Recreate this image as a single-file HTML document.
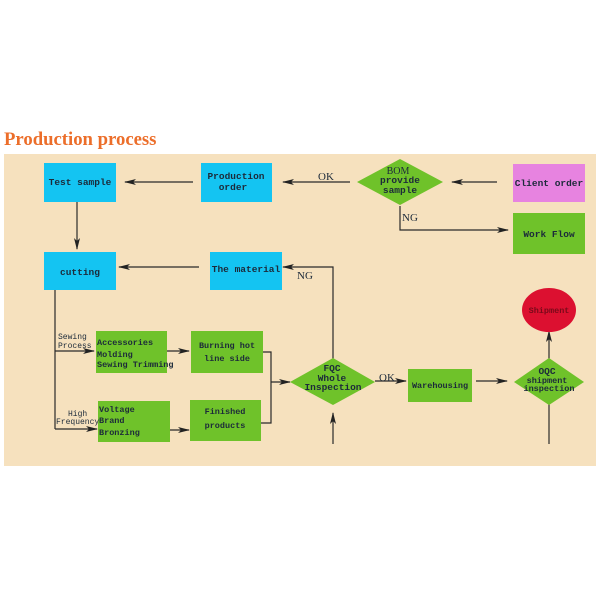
<!DOCTYPE html>
<html><head><meta charset="utf-8"><style>
html,body{margin:0;padding:0;background:#fff;width:600px;height:600px;overflow:hidden}
svg{display:block}
text{font-family:"Liberation Mono",monospace;font-weight:bold;fill:#1c2a3a;font-size:9.5px}
.s{font-family:"Liberation Serif",serif;font-weight:normal;font-size:10px}
</style></head><body>
<svg width="600" height="600" viewBox="0 0 600 600">
<defs><marker id="a" markerWidth="12" markerHeight="6" refX="11" refY="3" orient="auto" markerUnits="userSpaceOnUse"><path d="M0,0 L12,3 L0,6 L3,3 z" fill="#222"/></marker></defs>
<text x="4" y="145" style="font-family:'Liberation Serif',serif;font-weight:bold;font-size:18.7px;fill:#ec6e2a">Production process</text>
<rect x="4" y="154" width="592" height="312" fill="#f6e1be"/>
<g stroke="#2a2a2a" stroke-width="1.2" fill="none">
<line x1="193" y1="182" x2="125" y2="182" marker-end="url(#a)"/>
<line x1="350" y1="182" x2="283" y2="182" marker-end="url(#a)"/>
<line x1="497" y1="182" x2="452" y2="182" marker-end="url(#a)"/>
<polyline points="400,206 400,230 508,230" marker-end="url(#a)"/>
<line x1="77" y1="202" x2="77" y2="249" marker-end="url(#a)"/>
<line x1="199" y1="267" x2="119" y2="267" marker-end="url(#a)"/>
<polyline points="333,360 333,267 283,267" marker-end="url(#a)"/>
<polyline points="55,290 55,429"/>
<line x1="55" y1="351" x2="94" y2="351" marker-end="url(#a)"/>
<line x1="55" y1="429" x2="97" y2="429" marker-end="url(#a)"/>
<line x1="166" y1="351" x2="189" y2="351" marker-end="url(#a)"/>
<line x1="169" y1="430" x2="189" y2="430" marker-end="url(#a)"/>
<polyline points="261,352 271,352 271,423 260,423"/>
<line x1="271" y1="382" x2="290" y2="382" marker-end="url(#a)"/>
<line x1="333" y1="444" x2="333" y2="413" marker-end="url(#a)"/>
<line x1="375" y1="381" x2="406" y2="381" marker-end="url(#a)"/>
<line x1="476" y1="381" x2="507" y2="381" marker-end="url(#a)"/>
<line x1="549" y1="361" x2="549" y2="331" marker-end="url(#a)"/>
<line x1="549" y1="444" x2="549" y2="404"/>
</g>
<g fill="#14c4f2">
<rect x="44" y="163" width="72" height="39"/>
<rect x="201" y="163" width="71" height="39"/>
<rect x="44" y="252" width="72" height="38"/>
<rect x="210" y="252" width="72" height="38"/>
</g>
<rect x="513" y="164" width="72" height="38" fill="#e783e0"/>
<g fill="#6fc22a">
<rect x="513" y="213" width="72" height="41"/>
<rect x="96" y="331" width="71" height="42"/>
<rect x="191" y="331" width="72" height="42"/>
<rect x="98" y="401" width="72" height="41"/>
<rect x="190" y="400" width="71" height="41"/>
<rect x="408" y="369" width="64" height="33"/>
<polygon points="357,182 400,159 443,182 400,205"/>
<polygon points="290,382 333,358 375,382 333,405"/>
<polygon points="514,382 549,358 584,382 549,405"/>
</g>
<ellipse cx="549" cy="310" rx="27" ry="22" fill="#dc1030"/>
<text x="80" y="185" text-anchor="middle">Test sample</text>
<text x="236" y="179" text-anchor="middle">Production</text>
<text x="233" y="190" text-anchor="middle">order</text>
<text x="80" y="275" text-anchor="middle">cutting</text>
<text x="246" y="272" text-anchor="middle">The material</text>
<text x="549" y="186" text-anchor="middle">Client order</text>
<text x="549" y="237" text-anchor="middle">Work Flow</text>
<text x="398" y="174" text-anchor="middle" class="s" style="font-size:10px">BOM</text>
<text x="400" y="183" text-anchor="middle">provide</text>
<text x="400" y="193" text-anchor="middle">sample</text>
<text x="318" y="180" class="s" style="font-size:11px">OK</text>
<text x="402" y="221" class="s" style="font-size:11px">NG</text>
<text x="297" y="279" class="s" style="font-size:11px">NG</text>
<text x="58" y="339" style="font-size:8px;font-weight:normal">Sewing</text>
<text x="58" y="348" style="font-size:8px;font-weight:normal">Process</text>
<text x="97" y="345" style="font-size:8.5px">Accessories</text>
<text x="97" y="357" style="font-size:8.5px">Molding</text>
<text x="97" y="367" style="font-size:8.5px">Sewing Trimming</text>
<text x="227" y="348" text-anchor="middle" style="font-size:8.5px">Burning hot</text>
<text x="227" y="361" text-anchor="middle" style="font-size:8.5px">line side</text>
<text x="68" y="416" style="font-size:8px;font-weight:normal">High</text>
<text x="56" y="424" style="font-size:8px;font-weight:normal">Frequency</text>
<text x="99" y="412" style="font-size:8.5px">Voltage</text>
<text x="99" y="423" style="font-size:8.5px">Brand</text>
<text x="99" y="435" style="font-size:8.5px">Bronzing</text>
<text x="225" y="414" text-anchor="middle" style="font-size:8.5px">Finished</text>
<text x="225" y="428" text-anchor="middle" style="font-size:8.5px">products</text>
<text x="332" y="371" text-anchor="middle">FQC</text>
<text x="332" y="381" text-anchor="middle">Whole</text>
<text x="333" y="390" text-anchor="middle">Inspection</text>
<text x="379" y="381" class="s" style="font-size:11px">OK</text>
<text x="440" y="388" text-anchor="middle" style="font-size:8.5px">Warehousing</text>
<text x="547" y="374" text-anchor="middle">OQC</text>
<text x="547" y="383" text-anchor="middle" style="font-size:8.5px">shipment</text>
<text x="549" y="391" text-anchor="middle" style="font-size:8.5px">inspection</text>
<text x="549" y="313" text-anchor="middle" style="font-size:8.5px;fill:#7a0a1a">Shipment</text>
</svg>
</body></html>
